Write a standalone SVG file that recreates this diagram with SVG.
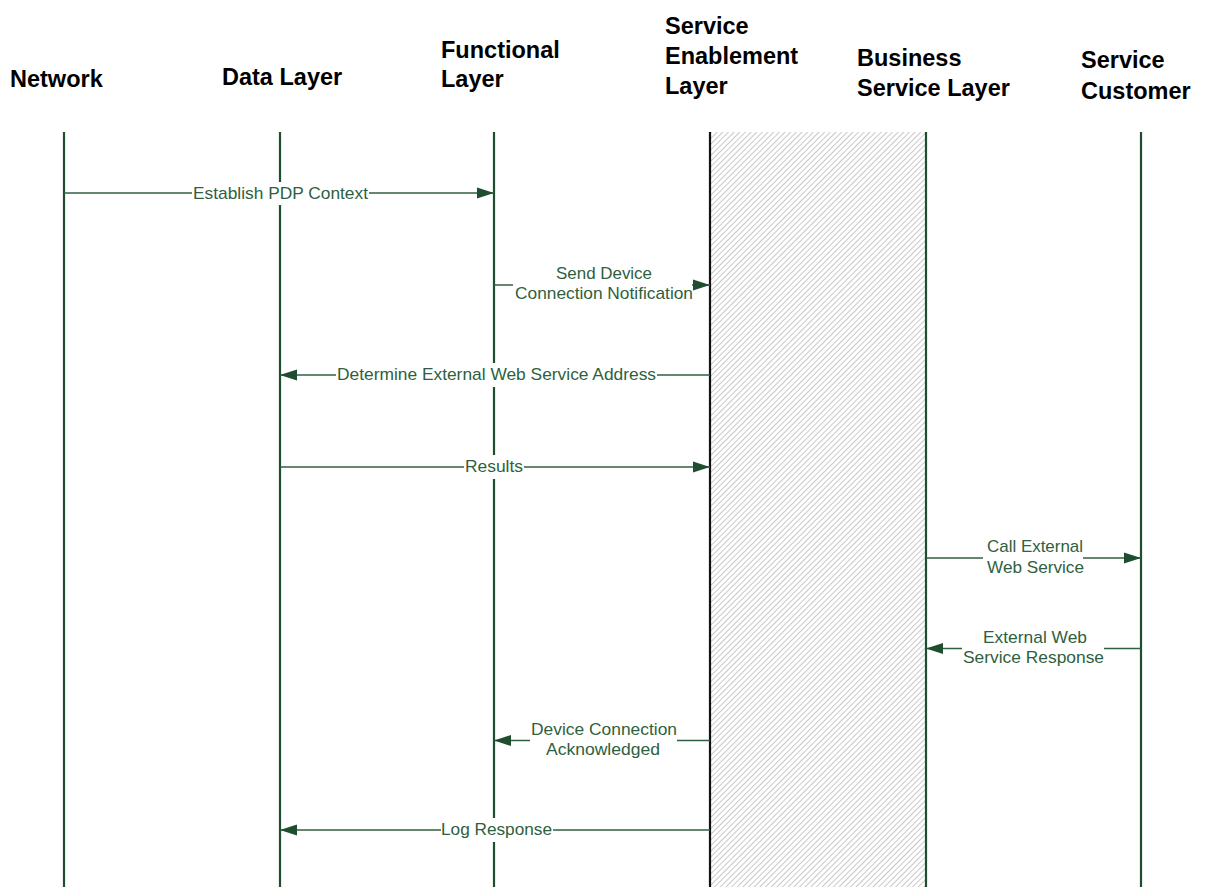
<svg xmlns="http://www.w3.org/2000/svg" width="1205" height="887" viewBox="0 0 1205 887">
<style>
.hdr{font-family:"Liberation Sans",Arial,sans-serif;font-weight:bold;font-size:23.5px;fill:#000}
.life{stroke:#1e4d30;stroke-width:2.2;fill:none}
.msg{stroke:#2f5f40;stroke-width:1.3;fill:none}
.lbl{font-family:"Liberation Sans",Arial,sans-serif;font-size:17px;fill:#2f5f40}
.bg{fill:#fff;stroke:none}
</style>
<defs>
<pattern id="hatch" patternUnits="userSpaceOnUse" width="4" height="4" patternTransform="rotate(45)">
<rect width="4" height="4" fill="#fff"/>
<line x1="0" y1="0" x2="0" y2="4" stroke="#c8c8c8" stroke-width="2"/>
</pattern>
<marker id="ah" markerUnits="userSpaceOnUse" markerWidth="18" markerHeight="12" refX="17" refY="6" orient="auto">
<path d="M0,0.5 L17,6 L0,11.5 z" fill="#1e4d30"/>
</marker>
</defs>
<rect x="710" y="132" width="216" height="755" fill="url(#hatch)"/>
<g id="network">
<text class="hdr" x="10" y="87">Network</text>
<line class="life" x1="64" y1="132" x2="64" y2="887"/>
</g>
<g id="data-layer">
<text class="hdr" x="222" y="85">Data Layer</text>
<line class="life" x1="280" y1="132" x2="280" y2="887"/>
</g>
<g id="functional-layer">
<text class="hdr" x="441" y="58">Functional</text>
<text class="hdr" x="441" y="87">Layer</text>
<line class="life" x1="494" y1="132" x2="494" y2="887"/>
</g>
<g id="service-enablement-layer">
<text class="hdr" x="665" y="34">Service</text>
<text class="hdr" x="665" y="64">Enablement</text>
<text class="hdr" x="665" y="94">Layer</text>
<line x1="710" y1="132" x2="710" y2="887" stroke="#111" stroke-width="2.2"/>
</g>
<g id="business-service-layer">
<text class="hdr" x="857" y="66">Business</text>
<text class="hdr" x="857" y="96">Service Layer</text>
<line class="life" x1="926" y1="132" x2="926" y2="887"/>
</g>
<g id="service-customer">
<text class="hdr" x="1081" y="68">Service</text>
<text class="hdr" x="1081" y="99">Customer</text>
<line class="life" x1="1141" y1="132" x2="1141" y2="887"/>
</g>
<g id="connectors">
<line class="msg" x1="64" y1="193" x2="494" y2="193" marker-end="url(#ah)"/>
<rect class="bg" x="192" y="182" width="177" height="23"/>
<text class="lbl" x="193" y="199" textLength="175" lengthAdjust="spacingAndGlyphs">Establish PDP Context</text>

<line class="msg" x1="494" y1="285" x2="710" y2="285" marker-end="url(#ah)"/>
<rect class="bg" x="513" y="264" width="179" height="40"/>
<text class="lbl" x="556" y="279" textLength="96" lengthAdjust="spacingAndGlyphs">Send Device</text>
<text class="lbl" x="515" y="299" textLength="178" lengthAdjust="spacingAndGlyphs">Connection Notification</text>

<line class="msg" x1="710" y1="375" x2="280" y2="375" marker-end="url(#ah)"/>
<rect class="bg" x="336" y="363" width="321" height="24"/>
<text class="lbl" x="337" y="380" textLength="319" lengthAdjust="spacingAndGlyphs">Determine External Web Service Address</text>

<line class="msg" x1="280" y1="467" x2="710" y2="467" marker-end="url(#ah)"/>
<rect class="bg" x="464" y="455" width="60" height="24"/>
<text class="lbl" x="465" y="472" textLength="58" lengthAdjust="spacingAndGlyphs">Results</text>

<line class="msg" x1="926" y1="558" x2="1141" y2="558" marker-end="url(#ah)"/>
<rect class="bg" x="983" y="536" width="100" height="41"/>
<text class="lbl" x="987" y="552" textLength="96" lengthAdjust="spacingAndGlyphs">Call External</text>
<text class="lbl" x="987" y="573" textLength="97" lengthAdjust="spacingAndGlyphs">Web Service</text>

<line class="msg" x1="1141" y1="648.5" x2="926" y2="648.5" marker-end="url(#ah)"/>
<rect class="bg" x="962" y="627" width="142" height="41"/>
<text class="lbl" x="983" y="643" textLength="104" lengthAdjust="spacingAndGlyphs">External Web</text>
<text class="lbl" x="963" y="663" textLength="141" lengthAdjust="spacingAndGlyphs">Service Response</text>

<line class="msg" x1="710" y1="740.5" x2="494" y2="740.5" marker-end="url(#ah)"/>
<rect class="bg" x="530" y="720" width="147" height="40"/>
<text class="lbl" x="531" y="735" textLength="146" lengthAdjust="spacingAndGlyphs">Device Connection</text>
<text class="lbl" x="546" y="755" textLength="114" lengthAdjust="spacingAndGlyphs">Acknowledged</text>

<line class="msg" x1="710" y1="830" x2="280" y2="830" marker-end="url(#ah)"/>
<rect class="bg" x="441" y="818" width="112" height="24"/>
<text class="lbl" x="441" y="835" textLength="111" lengthAdjust="spacingAndGlyphs">Log Response</text>
</g>
</svg>
